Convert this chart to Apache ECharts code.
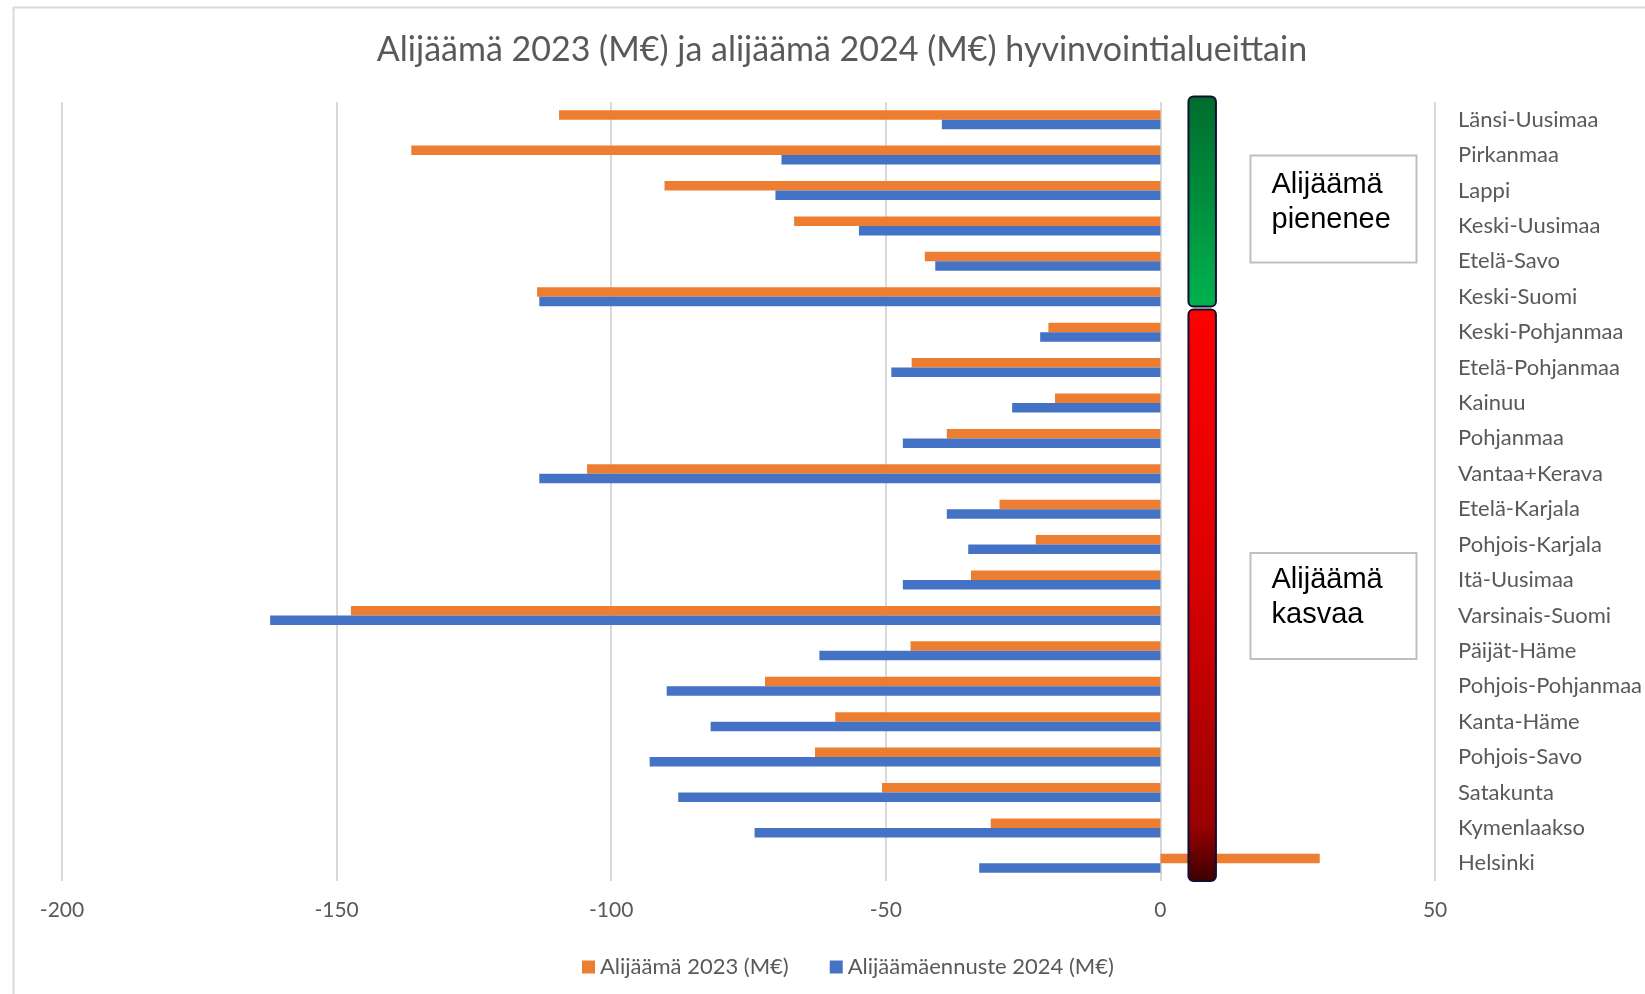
<!DOCTYPE html>
<html>
<head>
<meta charset="utf-8">
<script src="https://cdn.jsdelivr.net/npm/echarts@6/dist/echarts.min.js"></script>
<style>
html,body{margin:0;padding:0;background:#fff;}
#chart{width:1645px;height:994px;}
</style>
</head>
<body>
<div id="chart"></div>
<script>
const titleText = 'Alijäämä 2023 (M€) ja alijäämä 2024 (M€) hyvinvointialueittain';
const categories = ['Länsi-Uusimaa','Pirkanmaa','Lappi','Keski-Uusimaa','Etelä-Savo','Keski-Suomi','Keski-Pohjanmaa','Etelä-Pohjanmaa','Kainuu','Pohjanmaa','Vantaa+Kerava','Etelä-Karjala','Pohjois-Karjala','Itä-Uusimaa','Varsinais-Suomi','Päijät-Häme','Pohjois-Pohjanmaa','Kanta-Häme','Pohjois-Savo','Satakunta','Kymenlaakso','Helsinki'];
const seriesNames = ['Alijäämä 2023 (M€)','Alijäämäennuste 2024 (M€)'];
const deficit2023 = [-109.5,-136.4,-90.3,-66.7,-42.9,-113.5,-20.4,-45.3,-19.2,-38.9,-104.4,-29.3,-22.7,-34.5,-147.4,-45.5,-72.0,-59.2,-62.9,-50.7,-30.9,29.0];
const forecast2024 = [-39.8,-69.0,-70.1,-54.9,-41.0,-113.1,-21.9,-49.0,-27.0,-46.9,-113.1,-38.9,-35.0,-46.9,-162.1,-62.1,-89.9,-81.9,-93.0,-87.8,-73.9,-33.0];
const xTicks = {min:-200, max:50, interval:50};
const boxLabels = ['Alijäämä\npienenee','Alijäämä\nkasvaa'];
const greenCats = ['Länsi-Uusimaa','Keski-Suomi'];
const redCats = ['Keski-Pohjanmaa','Helsinki'];
const indicatorRange = [5.1, 10.1];

const FONT = 'Lato, "Open Sans", sans-serif';
const GRAY = '#595959';
const chart = echarts.init(document.getElementById('chart'));
const option = {
  animation:false,
  backgroundColor:'#fff',
  title:{text:titleText, left:837, top:28, textAlign:'center',
    textStyle:{fontFamily:FONT, fontSize:34, fontWeight:'normal', color:GRAY}},
  legend:{data:seriesNames, left:577, top:951, icon:'rect', itemWidth:13, itemHeight:13, itemGap:41,
    textStyle:{fontFamily:FONT, fontSize:22, color:GRAY}},
  grid:{left:62, right:204, top:102, bottom:113, containLabel:false},
  xAxis:{type:'value', min:xTicks.min, max:xTicks.max, interval:xTicks.interval,
    axisLine:{show:false}, axisTick:{show:false},
    axisLabel:{fontFamily:FONT, fontSize:21, color:GRAY, margin:19},
    splitLine:{lineStyle:{color:'#d9d9d9', width:2}}},
  yAxis:{type:'category', data:categories, inverse:true, position:'right',
    axisLine:{show:false}, axisTick:{show:false},
    axisLabel:{fontFamily:FONT, fontSize:22, color:GRAY, margin:23, align:'left'}},
  series:[
    {name:seriesNames[0], type:'bar', data:deficit2023, barWidth:9.5, barGap:'0%', itemStyle:{color:'#ED7D31'}},
    {name:seriesNames[1], type:'bar', data:forecast2024, barWidth:9.5, barGap:'0%', itemStyle:{color:'#4472C4'}}
  ]
};
chart.setOption(option);

function px(v, cat){ return chart.convertToPixel({gridIndex:0},[v, cat]); }
const c0 = px(0, categories[0]), c1 = px(0, categories[1]);
const bw = c1[1]-c0[1];
const gA = px(indicatorRange[0], greenCats[0]), gB = px(indicatorRange[1], greenCats[1]);
const rA = px(indicatorRange[0], redCats[0]), rB = px(indicatorRange[1], redCats[1]);
const g = {x:gA[0], y:gA[1]-bw/2-5.5, w:gB[0]-gA[0]};
g.h = (gB[1]+bw/2-8) - g.y;
const r = {x:rA[0], y:rA[1]-bw/2-5, w:rB[0]-rA[0]};
r.h = (rB[1]+bw/2) - r.y;

chart.setOption({graphic:[
  {type:'rect', left:11, top:5, shape:{width:1700, height:1100}, style:{fill:'none', stroke:'#d9d9d9', lineWidth:2}, silent:true, z:-10},
  {type:'rect', shape:{x:g.x, y:g.y, width:g.w, height:g.h, r:5},
   style:{fill:new echarts.graphic.LinearGradient(0,0,0,1,[{offset:0,color:'#006b2d'},{offset:1,color:'#00b24e'}]), stroke:'#0d1030', lineWidth:2}, z:100},
  {type:'rect', shape:{x:r.x, y:r.y, width:r.w, height:r.h, r:5},
   style:{fill:new echarts.graphic.LinearGradient(0,0,0,1,[{offset:0,color:'#ff0000'},{offset:0.45,color:'#dd0000'},{offset:0.9,color:'#9a0000'},{offset:1,color:'#3a0000'}]), stroke:'#0d1030', lineWidth:2}, z:100},
  {type:'rect', shape:{x:1250.5, y:155.5, width:166, height:107}, style:{fill:'#fff', stroke:'#bfbfbf', lineWidth:2}, z:100},
  {type:'text', left:1271.5, top:167, style:{text:boxLabels[0], font:'29px "Liberation Sans", Arial, sans-serif', fill:'#000', lineHeight:35}, z:101},
  {type:'rect', shape:{x:1250.5, y:553, width:166, height:106}, style:{fill:'#fff', stroke:'#bfbfbf', lineWidth:2}, z:100},
  {type:'text', left:1271.5, top:562.5, style:{text:boxLabels[1], font:'29px "Liberation Sans", Arial, sans-serif', fill:'#000', lineHeight:35}, z:101}
]});
</script>
</body>
</html>
